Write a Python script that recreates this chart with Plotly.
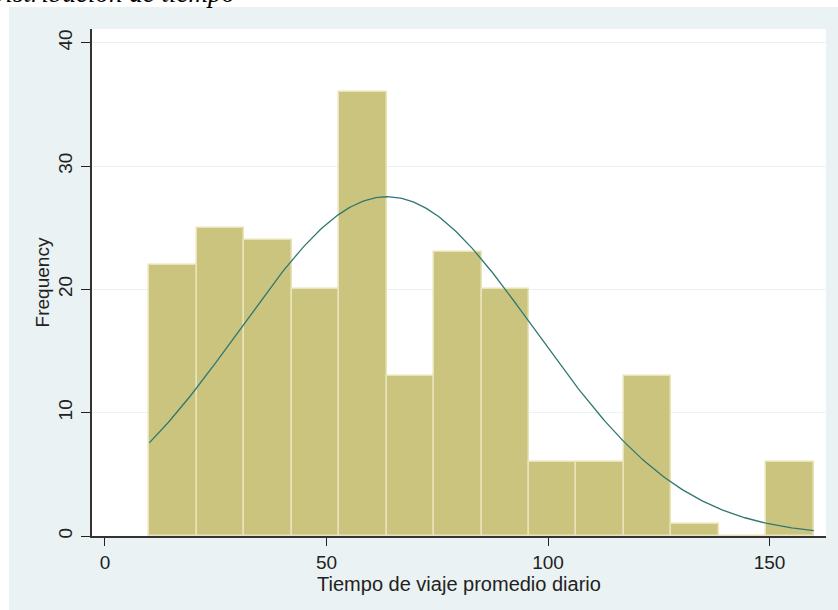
import numpy as np
import plotly.graph_objects as go

# Histogram of average daily travel time (14 bins from 10 to 160 minutes)
bin_start = 10.0
bin_end = 160.0
counts = [22, 25, 24, 20, 36, 13, 23, 20, 6, 6, 13, 1, 0, 6]

# Normal density overlay parameters
obs_mean = 63.7
obs_sd = 33.4

x_ticks = [0, 50, 100, 150]
y_ticks = [0, 10, 20, 30, 40]

n_bins = len(counts)
width = (bin_end - bin_start) / n_bins
centers = [bin_start + width * (i + 0.5) for i in range(n_bins)]
n_obs = sum(counts)

xs = np.linspace(bin_start, bin_end, 300)
dens = n_obs * width * np.exp(-0.5 * ((xs - obs_mean) / obs_sd) ** 2) / (obs_sd * np.sqrt(2 * np.pi))

BG = "#eaf2f3"
font_family = "Liberation Sans, Arial, sans-serif"

fig = go.Figure()
fig.add_trace(go.Bar(
    x=centers, y=counts, width=width,
    marker=dict(color="rgb(203,196,127)", line=dict(color="rgb(232,228,184)", width=1.5)),
    showlegend=False, hoverinfo="x+y",
))
fig.add_trace(go.Scatter(
    x=xs, y=dens, mode="lines",
    line=dict(color="#2f7872", width=1.3),
    showlegend=False,
))

fig.update_layout(
    width=838, height=610,
    margin=dict(l=92, r=12, t=29, b=74),
    paper_bgcolor=BG, plot_bgcolor="white",
    bargap=0,
    font=dict(family=font_family, color="#222"),
    xaxis=dict(
        range=[-2.93, 162.75], tickvals=x_ticks, ticks="outside", ticklen=8,
        tickcolor="#222", showline=True, linecolor="#333", linewidth=1.5,
        showgrid=False, zeroline=False, tickfont=dict(size=19),
        title=dict(text="Tiempo de viaje promedio diario", font=dict(size=20), standoff=0),
    ),
    yaxis=dict(
        range=[0, 41.12], tickvals=y_ticks, ticks="outside", ticklen=9,
        tickcolor="#222", showline=True, linecolor="#333", linewidth=1.5,
        showgrid=True, gridcolor=BG, gridwidth=1.2, zeroline=False,
        tickangle=-90, tickfont=dict(size=19), ticklabelstandoff=2,
        title=dict(text="Frequency", font=dict(size=19), standoff=0),
    ),
    shapes=[
        dict(type="rect", xref="paper", yref="paper", x0=-92/734, x1=(838-92)/734,
             y0=1 + 22/507, y1=1 + 40/507, fillcolor="white", line=dict(width=0)),
        dict(type="rect", xref="paper", yref="paper", x0=-92/734, x1=-83/734,
             y0=-80/507, y1=1 + 40/507, fillcolor="white", line=dict(width=0)),
    ],
    annotations=[
        dict(text="<i>Distribución de tiempo</i>", xref="paper", yref="paper",
             x=(237 - 92) / 734, y=1 + 19/507, xanchor="right", yanchor="bottom",
             showarrow=False, font=dict(family="Liberation Serif, Times New Roman, serif", size=27, color="black")),
    ],
)

fig.write_html("out.html")
